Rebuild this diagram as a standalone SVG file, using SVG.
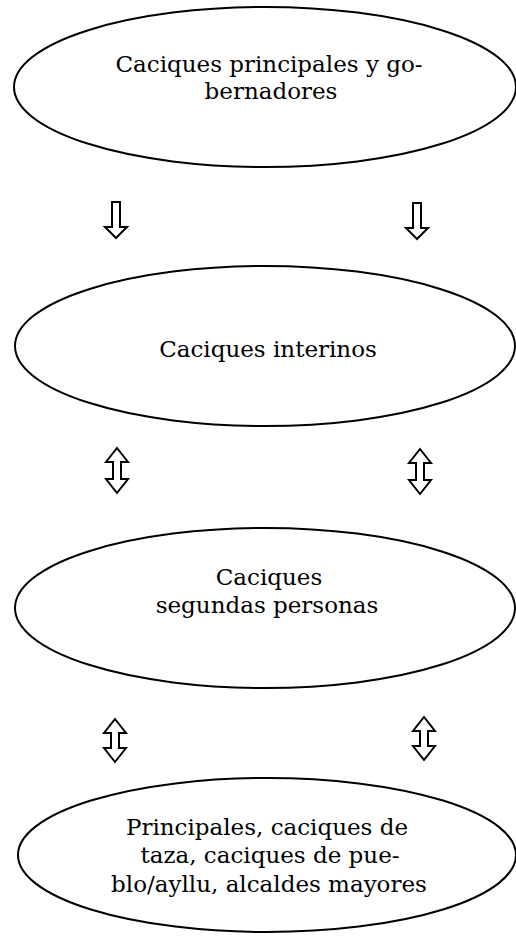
<svg xmlns="http://www.w3.org/2000/svg" width="516" height="936" viewBox="0 0 516 936">
<style>
.node ellipse{fill:#fff;stroke:#000;stroke-width:2}
.node text{font-family:"DejaVu Serif",serif;font-size:23px;fill:#000;text-anchor:middle}
.arr{fill:#fff;stroke:#000;stroke-width:2;stroke-linejoin:miter}
</style>
<rect width="516" height="936" fill="#fff"/>
<g id="n1" class="node">
<ellipse cx="265" cy="87" rx="251" ry="80"/>
<text x="269" y="72">Caciques principales y go-</text>
<text x="271" y="99">bernadores</text>
</g>
<g id="n2" class="node">
<ellipse cx="265" cy="346" rx="250" ry="80"/>
<text x="268" y="357">Caciques interinos</text>
</g>
<g id="n3" class="node">
<ellipse cx="265" cy="608" rx="250" ry="80"/>
<text x="269" y="585">Caciques</text>
<text x="267" y="613">segundas personas</text>
</g>
<g id="n4" class="node">
<ellipse cx="267" cy="855" rx="249" ry="77"/>
<text x="267" y="835">Principales, caciques de</text>
<text x="270" y="863">taza, caciques de pue-</text>
<text x="269" y="892">blo/ayllu, alcaldes mayores</text>
</g>
<g id="connectors">
<path class="arr" d="M112,202 H120 V227 H127 L116,238 L105,227 H112 Z"/>
<path class="arr" d="M413,203 H421 V228 H428 L417,239 L406,228 H413 Z"/>
<path class="arr" d="M117,448 L128,462 H121 V479 H128 L117,493 L106,479 H113 V462 H106 Z"/>
<path class="arr" d="M420,449 L431,463 H424 V480 H431 L420,494 L409,480 H416 V463 H409 Z"/>
<path class="arr" d="M115,719 L126,733 H119 V748 H126 L115,762 L104,748 H111 V733 H104 Z"/>
<path class="arr" d="M424,717 L435,731 H428 V746 H435 L424,760 L413,746 H420 V731 H413 Z"/>
</g>
</svg>
